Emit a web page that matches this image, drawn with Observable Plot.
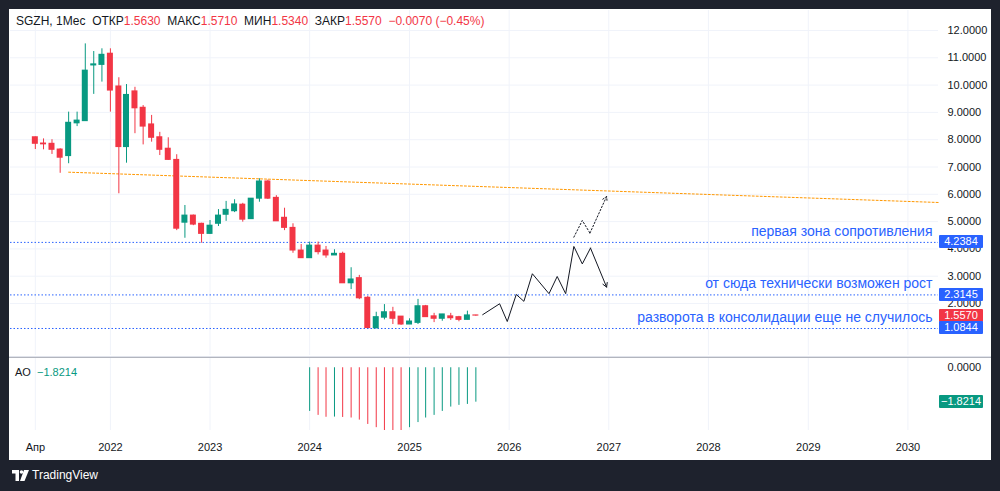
<!DOCTYPE html>
<html><head><meta charset="utf-8">
<script src="https://cdn.jsdelivr.net/npm/d3@7"></script>
<script src="https://cdn.jsdelivr.net/npm/@observablehq/plot@0.6"></script>
<style>
html,body{margin:0;padding:0;background:#1e222d;width:1000px;height:491px;overflow:hidden;font-family:"Liberation Sans",Arial,sans-serif;}
#panel{position:absolute;left:9px;top:9px;width:982px;height:451px;background:#fff;}
.abs{position:absolute;}
.r{color:#f23645;}
.badge{position:absolute;left:939px;width:44px;height:13px;line-height:13px;color:#fff;font-size:11px;text-align:center;border-radius:1px;}
</style></head><body>
<div id="panel"></div>
<div class="abs" style="left:9px;top:356px;width:982px;height:1px;background:#e0e3eb"></div>
<div class="abs" style="left:9px;top:357px;width:982px;height:1px;background:#b2b5be"></div>
<div id="main" class="abs" style="left:0;top:0"></div>
<div id="ao" class="abs" style="left:0;top:358px"></div>
<div id="legend" class="abs" style="left:16px;top:14px;font-size:12px;color:#131722;white-space:pre"></div>
<div id="aolegend" class="abs" style="left:15px;top:366px;font-size:11px;color:#131722;white-space:pre"></div>
<div class="abs" style="left:12px;top:468px;color:#fff;font-size:12px;display:flex;align-items:center;gap:3px">
  <svg width="17" height="11" viewBox="0 0 17 11"><path d="M0 0h7v11h-3.5v-7.5h-3.5z" fill="#fff"/><circle cx="9.5" cy="2" r="1.8" fill="#fff"/><path d="M12 0h5l-4.5 11h-4.5z" fill="#fff"/></svg>
  <span>TradingView</span>
</div>
<script>
const months = ["2021-04","2021-05","2021-06","2021-07","2021-08","2021-09","2021-10","2021-11","2021-12",
"2022-01","2022-02","2022-03","2022-04","2022-05","2022-06","2022-07","2022-08","2022-09","2022-10","2022-11","2022-12",
"2023-01","2023-02","2023-03","2023-04","2023-05","2023-06","2023-07","2023-08","2023-09","2023-10","2023-11","2023-12",
"2024-01","2024-02","2024-03","2024-04","2024-05","2024-06","2024-07","2024-08","2024-09","2024-10","2024-11","2024-12",
"2025-01","2025-02","2025-03","2025-04","2025-05","2025-06","2025-07","2025-08","2025-09"];
const open = [8.09,7.86,7.85,7.64,7.40,8.60,8.68,10.72,10.74,
 11.15,9.95,7.73,9.77,9.17,8.56,8.09,7.67,7.26,4.96,5.22,4.92,
 4.55,4.92,5.25,5.38,5.62,5.09,5.84,6.47,5.87,5.14,4.77,3.94,
 3.66,4.12,3.94,3.76,3.82,2.74,2.93,2.21,1.09,1.48,1.68,1.52,
 1.23,1.29,1.90,1.53,1.44,1.53,1.50,1.40,1.563];
const high = [8.10,8.03,8.00,7.67,9.01,9.01,11.51,11.23,11.33,
 11.33,10.27,10.02,9.92,9.25,8.89,8.27,8.07,7.45,5.59,5.24,4.94,
 5.04,5.44,5.74,5.80,5.67,5.84,6.57,6.52,5.95,5.49,4.92,4.16,
 4.25,4.25,4.09,3.97,3.88,3.31,3.03,2.26,1.68,1.96,1.86,1.52,
 1.44,2.15,1.93,1.64,1.60,1.64,1.53,1.72,1.571];
const low = [7.64,7.63,7.46,6.77,7.12,8.48,8.68,9.66,10.11,
 9.01,6.02,7.14,8.22,7.81,7.91,7.42,7.24,4.67,4.39,4.85,4.21,
 4.53,4.82,5.01,5.33,4.98,5.09,5.71,5.81,5.01,4.67,3.84,3.66,
 3.66,3.78,3.66,3.76,2.74,2.51,2.14,1.0844,1.0844,1.40,1.23,1.20,
 1.23,1.23,1.50,1.30,1.35,1.38,1.33,1.40,1.534];
const close = [7.85,7.83,7.63,7.34,8.62,8.70,10.53,10.76,11.11,
 9.80,7.73,9.64,9.15,8.48,8.07,7.63,7.26,4.74,5.22,4.89,4.55,
 4.85,5.22,5.43,5.63,5.07,5.84,6.47,5.84,5.01,4.77,3.94,3.66,
 4.12,3.88,3.76,3.82,2.74,2.88,2.19,1.10,1.50,1.68,1.44,1.23,
 1.34,1.90,1.50,1.44,1.60,1.46,1.40,1.564,1.557];

const aoValues = [-2.31,-2.52,-2.62,-2.61,-2.63,-2.66,-2.77,-3.00,-3.17,-3.35,-3.42,-3.45,-3.17,-2.90,-2.66,-2.52,-2.31,-2.08,-1.99,-1.94,-1.8214];
const aoMonths = months.slice(months.length - aoValues.length);

const priceTicks = [2,3,4,5,6,7,8,9,10,11,12];
const tickDates = ["2021-04-01","2022-01-01","2023-01-01","2024-01-01","2025-01-01","2026-01-01","2027-01-01","2028-01-01","2029-01-01","2030-01-01"];
const tickLabels = ["Апр","2022","2023","2024","2025","2026","2027","2028","2029","2030"];

const levels = [4.2384, 2.3145, 1.0844];
const levelNotes = ["первая зона сопротивления","от сюда технически возможен рост","разворота в консолидации еще не случилось"];

const trendDates = ["2021-08-01","2030-04-23"];
const trendValues = [6.81, 5.70];
const pathDates = ["2025-09-26","2025-11-27","2025-12-25","2026-01-27","2026-02-24","2026-03-27","2026-05-27","2026-06-26","2026-07-27","2026-08-26","2026-09-26","2026-10-26","2026-12-24"];
const pathValues = [1.59,1.99,1.34,2.33,2.08,3.09,2.36,2.99,2.36,4.09,3.45,4.03,2.60];
const altDates = ["2026-08-26","2026-09-26","2026-10-24","2026-12-24"];
const altValues = [4.43,5.04,4.58,5.92];

const up = "#089981", down = "#f23645", blue = "#2962ff", ink = "#131722";
const xDomain = [new Date("2020-12-31"), new Date("2030-04-23")];
const font = "'Liberation Sans', Arial, sans-serif";

const candles = months.map((m,i)=>({date:new Date(m+"-01"), open:open[i], high:high[i], low:low[i], close:close[i],
  lo:Math.min(open[i],close[i]), hi:Math.max(open[i],close[i]), color: close[i]>=open[i]?up:down}));
const trend = trendDates.map((d,i)=>({date:new Date(d), v:trendValues[i]}));
const path = pathDates.map((d,i)=>({date:new Date(d), v:pathValues[i]}));
const alt = altDates.map((d,i)=>({date:new Date(d), v:altValues[i]}));
const lastSeg = a => [{x1:a[a.length-2].date, y1:a[a.length-2].v, x2:a[a.length-1].date, y2:a[a.length-1].v}];
const notes = levels.map((v,i)=>({v, t:levelNotes[i]}));
const gridDates = tickDates.map(d=>new Date(d));
const labelMap = new Map(gridDates.map((d,i)=>[+d, tickLabels[i]]));

const main = Plot.plot({
  width:1000, height:356, marginLeft:10, marginRight:62, marginTop:10, marginBottom:1,
  x:{type:"utc", domain:xDomain, axis:null},
  y:{domain:[0.0952,12.733]},
  style:{background:"transparent", fontFamily:font, overflow:"visible"},
  marks:[
    Plot.gridY(priceTicks,{stroke:"#f0f3fa", strokeOpacity:1}),
    Plot.gridX(gridDates,{stroke:"#f0f3fa", strokeOpacity:1}),
    Plot.axisY(priceTicks,{anchor:"right", tickSize:0, tickPadding:9, tickFormat:d=>d.toFixed(4), fontSize:11, fill:ink, label:null}),
    Plot.line(trend,{x:"date", y:"v", stroke:"#ff9800", strokeWidth:1, strokeDasharray:"2,2"}),
    Plot.ruleY(levels,{stroke:blue, strokeWidth:1, strokeDasharray:"1.5,2"}),
    Plot.ruleX(candles,{x:"date", y1:"low", y2:"high", stroke:"color", strokeWidth:1}),
    Plot.rect(candles,{x1:"date", x2:"date", y1:"lo", y2:"hi", fill:"color", insetLeft:-3, insetRight:-3, insetTop:-0.5, insetBottom:-0.5}),
    Plot.text(notes,{y:"v", text:"t", frameAnchor:"right", textAnchor:"end", dx:-6, dy:-11, fill:blue, fontSize:14, lineAnchor:"middle"}),
    Plot.line(path.slice(0,-1),{x:"date", y:"v", stroke:ink, strokeWidth:1}),
    Plot.arrow(lastSeg(path),{x1:"x1", y1:"y1", x2:"x2", y2:"y2", stroke:ink, strokeWidth:1, headLength:7}),
    Plot.line(alt.slice(0,-1),{x:"date", y:"v", stroke:ink, strokeWidth:1, strokeDasharray:"1.5,2"}),
    Plot.arrow(lastSeg(alt),{x1:"x1", y1:"y1", x2:"x2", y2:"y2", stroke:ink, strokeWidth:1, headLength:7, strokeDasharray:"1.5,2"})
  ]
});
document.getElementById("main").appendChild(main);

const aoData = aoMonths.map((m,i)=>({date:new Date(m+"-01"), v:aoValues[i], color:(i===0||aoValues[i]>=aoValues[i-1])?up:down}));
const aoPlot = Plot.plot({
  width:1000, height:102, marginLeft:10, marginRight:62, marginTop:0, marginBottom:30,
  x:{type:"utc", domain:xDomain},
  y:{domain:[-3.32,0.49]},
  style:{background:"transparent", fontFamily:font, overflow:"visible"},
  marks:[
    Plot.gridX(gridDates,{stroke:"#f0f3fa", strokeOpacity:1}),
    Plot.ruleX(aoData,{x:"date", y1:0, y2:"v", stroke:"color", strokeWidth:1, clip:true}),
    Plot.axisY([0],{anchor:"right", tickSize:0, tickPadding:9, tickFormat:d=>d.toFixed(4), fontSize:11, fill:ink, label:null}),
    Plot.axisX(gridDates,{tickSize:0, tickPadding:13, tickFormat:d=>labelMap.get(+d), fontSize:11, fill:ink, label:null})
  ]
});
document.getElementById("ao").appendChild(aoPlot);

// legends
const n = months.length - 1;
const chg = close[n] - close[n-1];
const pct = chg / close[n-1] * 100;
const fmt = v => (v<0?"−":"") + Math.abs(v).toFixed(4);
document.getElementById("legend").innerHTML =
  `SGZH, 1Мес  ОТКР<span class="r">${open[n].toFixed(4)}</span>  МАКС<span class="r">${high[n].toFixed(4)}</span>  МИН<span class="r">${low[n].toFixed(4)}</span>  ЗАКР<span class="r">${close[n].toFixed(4)}</span>  <span class="r">${fmt(chg)} (${(pct<0?"−":"")+Math.abs(pct).toFixed(2)}%)</span>`;
const aoLast = aoValues[aoValues.length-1];
document.getElementById("aolegend").innerHTML = `AO  <span style="color:${up}">${fmt(aoLast)}</span>`;

// badges
const ys = main.scale("y");
function badge(top, text, bg){
  const d = document.createElement("div");
  d.className = "badge"; d.style.top = (top - 6.5) + "px"; d.style.background = bg; d.textContent = text;
  document.body.appendChild(d);
}
badge(ys.apply(levels[0]), levels[0].toFixed(4), blue);
badge(ys.apply(levels[1]), levels[1].toFixed(4), blue);
badge(ys.apply(close[n]), close[n].toFixed(4), down);
badge(ys.apply(levels[2]), levels[2].toFixed(4), blue);
const ya = aoPlot.scale("y");
badge(358 + ya.apply(aoLast), fmt(aoLast), up);
</script>
</body></html>
